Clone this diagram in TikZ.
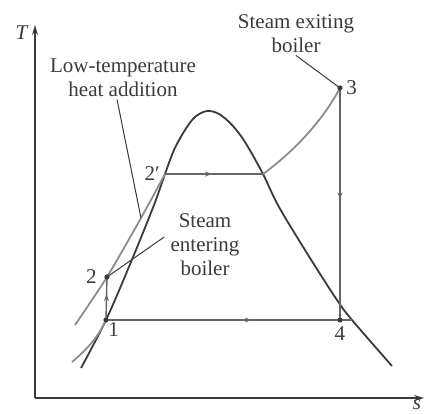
\documentclass[tikz,border=0pt]{standalone}
\usepackage{fontspec}
\setmainfont{Liberation Serif}
\usetikzlibrary{positioning, arrows.meta, decorations.markings}
\definecolor{ink}{HTML}{3A3A3A}
\definecolor{proc}{HTML}{8C8C8C}
\definecolor{cyc}{HTML}{666666}

\begin{document}
\begin{tikzpicture}[
    x=0.5pt, y=-0.5pt,
    lbl/.style={text=ink, font=\fontsize{10.5}{12}\selectfont, inner sep=1pt},
    note/.style={lbl, align=center},
    dome/.style={draw=ink, line width=0.9pt},
    heat/.style={draw=proc, line width=0.9pt},
    cyc/.style={draw=cyc, line width=0.7pt},
    lead/.style={draw=ink, line width=0.5pt},
    axis/.style={draw=ink, line width=0.7pt, -{Stealth[length=5pt, width=3pt]}},
    midarr/.style={postaction={decorate}, decoration={markings,
      mark=at position #1 with {\arrow[cyc]{Stealth[length=3.5pt, width=2.5pt]}}}}
  ]
  \useasboundingbox (0,0) rectangle (425,414);

  % state points
  \coordinate (p1) at (106,320);
  \coordinate (p2) at (107,277);
  \coordinate (p2p) at (165,174);
  \coordinate (p2s) at (263,174);
  \coordinate (p3) at (340,88);
  \coordinate (p4) at (340,320);
  \coordinate (q4) at (352,320);
  \coordinate (h) at (141,218);
  \coordinate (top) at (207,111);
  \coordinate (O) at (35,398);
  \coordinate (Ttip) at (35,25);
  \coordinate (stip) at (424,398);

  % axes
  \draw[axis] (O) -- (Ttip);
  \draw[axis] (O) -- (stip);
  \node[lbl] at (22,33) {\textit{T}};
  \node[lbl] at (417,405) {\textit{s}};

  % saturation dome
  \draw[dome] plot[smooth, tension=0.55] coordinates {(81,368) (p1) (131,262) (154,205) (p2p)
    (174,150) (185,130) (195,117) (top) (219,114) (232,125) (245,142) (p2s) (279,207)
    (310,258) (337,300) (q4) (392,366)};

  % heating line
  \draw[heat] (72,362) .. controls (86,350) and (98,338) .. (p1);
  \draw[heat] plot[smooth] coordinates {(75,325) (p2) (h) (p2p)};
  \draw[heat] (p2s) .. controls (292,153) and (322,122) .. (p3);

  % cycle
  \draw[cyc, midarr=0.6] (p1) -- (p2);
  \draw[cyc, midarr=0.48] (p2p) -- (p2s);
  \draw[cyc, midarr=0.48] (p3) -- (p4);
  \draw[cyc, midarr=0.45] (q4) -- (p1);
  \foreach \p in {p1,p2,p3,p4} \fill[ink] (\p) circle (1.3pt);

  \node[lbl, left=1.5pt of p2p] {2′};
  \node[lbl, left=4pt of p2] {2};
  \node[lbl, below right=0pt and 0pt of p1] {1};
  \node[lbl, below=2pt of p4] {4};
  \node[lbl, right=2pt of p3] {3};

  % notes
  \node[note] (lowtxt) at (123,78) {Low-temperature\\heat addition};
  \node[note] (exittxt) at (296,34) {Steam exiting\\boiler};
  \node[note] (entertxt) at (205,245) {Steam\\entering\\boiler};
  \draw[lead] ([xshift=-3pt]lowtxt.south) -- (h);
  \draw[lead] (exittxt.south) -- (p3);
  \draw[lead] ([xshift=-2pt, yshift=4pt]entertxt.west) -- (p2);
\end{tikzpicture}
\end{document}
